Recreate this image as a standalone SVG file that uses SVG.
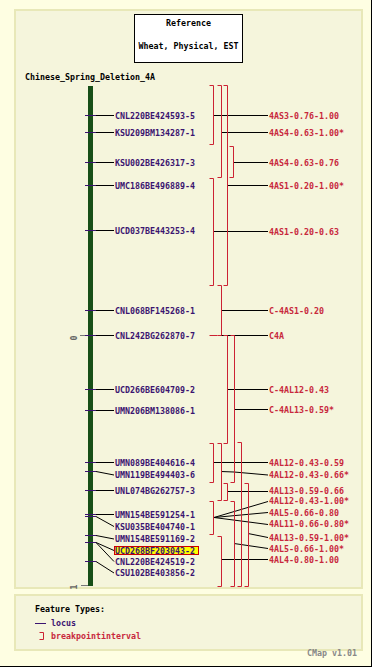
<svg xmlns="http://www.w3.org/2000/svg" width="372" height="667" viewBox="0 0 372 667">
<style>
text{font-family:"DejaVu Sans Mono","Liberation Mono",monospace;font-size:8.3px;font-weight:bold}
.loc{fill:#3b1470}
.bp{fill:#c8283c}
.br{fill:none;stroke:#cc2233;stroke-width:1}
.cn{fill:none;stroke:#000;stroke-width:1}
.tk{stroke:#3b1470;stroke-width:1}
.panel{fill:#f5f5dc;stroke:#e8e8b8;stroke-width:2}
</style>
<rect x="0" y="0" width="372" height="667" fill="#fefee2"/>
<line x1="371.5" y1="0" x2="371.5" y2="667" stroke="#000"/>
<line x1="0" y1="666.5" x2="372" y2="666.5" stroke="#000"/>
<rect class="panel" x="15" y="10" width="347" height="578"/>

<g id="reference-box">
<rect x="134.5" y="14.5" width="108" height="48" fill="#fff" stroke="#000"/>
<text x="188.5" y="25.5" text-anchor="middle" fill="#000">Reference</text>
<text x="188.5" y="49" text-anchor="middle" fill="#000">Wheat, Physical, EST</text>
</g>

<g id="map-title"><text x="25" y="80" fill="#000">Chinese_Spring_Deletion_4A</text></g>

<g id="chromosome">
<rect x="88" y="86" width="5" height="500" fill="#174f17"/>
<line x1="80" y1="335.5" x2="88" y2="335.5" stroke="#777"/>
<text x="74" y="338" fill="#666" font-size="7px" text-anchor="middle" transform="rotate(-90 74 338)" dominant-baseline="central">0</text>
<line x1="81" y1="585.5" x2="88" y2="585.5" stroke="#777"/>
<text x="74" y="587" fill="#666" font-size="7px" text-anchor="middle" transform="rotate(-90 74 587)" dominant-baseline="central">1</text>
</g>

<g id="loci">
<g id="CNL220BE424593-5"><line class="tk" x1="85" y1="115.5" x2="96" y2="115.5"/><line class="cn" x1="96" y1="115.5" x2="114" y2="115.5"/><text class="loc" x="115" y="118.5">CNL220BE424593-5</text></g>
<g id="KSU209BM134287-1"><line class="tk" x1="85" y1="132.5" x2="96" y2="132.5"/><line class="cn" x1="96" y1="132.5" x2="114" y2="132.5"/><text class="loc" x="115" y="135.5">KSU209BM134287-1</text></g>
<g id="KSU002BE426317-3"><line class="tk" x1="85" y1="162.5" x2="96" y2="162.5"/><line class="cn" x1="96" y1="162.5" x2="114" y2="162.5"/><text class="loc" x="115" y="165.5">KSU002BE426317-3</text></g>
<g id="UMC186BE496889-4"><line class="tk" x1="85" y1="185.5" x2="96" y2="185.5"/><line class="cn" x1="96" y1="185.5" x2="114" y2="185.5"/><text class="loc" x="115" y="188.5">UMC186BE496889-4</text></g>
<g id="UCD037BE443253-4"><line class="tk" x1="85" y1="230.5" x2="96" y2="230.5"/><line class="cn" x1="96" y1="230.5" x2="114" y2="230.5"/><text class="loc" x="115" y="233.5">UCD037BE443253-4</text></g>
<g id="CNL068BF145268-1"><line class="tk" x1="85" y1="310.5" x2="96" y2="310.5"/><line class="cn" x1="96" y1="310.5" x2="114" y2="310.5"/><text class="loc" x="115" y="313.5">CNL068BF145268-1</text></g>
<g id="CNL242BG262870-7"><line class="tk" x1="85" y1="335.5" x2="96" y2="335.5"/><line class="cn" x1="96" y1="335.5" x2="114" y2="335.5"/><text class="loc" x="115" y="338.5">CNL242BG262870-7</text></g>
<g id="UCD266BE604709-2"><line class="tk" x1="85" y1="389.5" x2="96" y2="389.5"/><line class="cn" x1="96" y1="389.5" x2="114" y2="389.5"/><text class="loc" x="115" y="392.5">UCD266BE604709-2</text></g>
<g id="UMN206BM138086-1"><line class="tk" x1="85" y1="410.5" x2="96" y2="410.5"/><line class="cn" x1="96" y1="410.5" x2="114" y2="410.5"/><text class="loc" x="115" y="413.5">UMN206BM138086-1</text></g>
<g id="UMN089BE404616-4"><line class="tk" x1="85" y1="462.5" x2="96" y2="462.5"/><line class="cn" x1="96" y1="462.5" x2="114" y2="462.5"/><text class="loc" x="115" y="465.5">UMN089BE404616-4</text></g>
<g id="UMN119BE494403-6"><line class="tk" x1="85" y1="471.5" x2="96" y2="471.5"/><line class="cn" x1="96" y1="471.5" x2="114" y2="475"/><text class="loc" x="115" y="478">UMN119BE494403-6</text></g>
<g id="UNL074BG262757-3"><line class="tk" x1="85" y1="490.5" x2="96" y2="490.5"/><line class="cn" x1="96" y1="490.5" x2="114" y2="490.5"/><text class="loc" x="115" y="493.5">UNL074BG262757-3</text></g>
<g id="UMN154BE591254-1"><line class="tk" x1="85" y1="514.5" x2="96" y2="514.5"/><line class="cn" x1="96" y1="514.5" x2="114" y2="514.5"/><text class="loc" x="115" y="517.5">UMN154BE591254-1</text></g>
<g id="KSU035BE404740-1"><line class="tk" x1="85" y1="516.5" x2="96" y2="516.5"/><line class="cn" x1="96" y1="516.5" x2="114" y2="526.5"/><text class="loc" x="115" y="529.5">KSU035BE404740-1</text></g>
<g id="UMN154BE591169-2"><line class="tk" x1="85" y1="535.5" x2="96" y2="535.5"/><line class="cn" x1="96" y1="535.5" x2="114" y2="539"/><text class="loc" x="115" y="542">UMN154BE591169-2</text></g>
<g id="UCD268BF203043-2"><line class="tk" x1="85" y1="542.5" x2="96" y2="542.5"/><line class="cn" x1="96" y1="542.5" x2="114" y2="550.5"/><rect x="114.5" y="546.5" width="84" height="8" fill="#ffff00" stroke="#cc0000"/><text class="loc" x="115" y="553.5">UCD268BF203043-2</text></g>
<g id="CNL220BE424519-2"><line class="cn" x1="96" y1="542.5" x2="114" y2="561.5"/><text class="loc" x="115" y="564.5">CNL220BE424519-2</text></g>
<g id="CSU102BE403856-2"><line class="tk" x1="85" y1="561.5" x2="96" y2="561.5"/><line class="cn" x1="96" y1="561.5" x2="114" y2="573"/><text class="loc" x="115" y="576">CSU102BE403856-2</text></g>
</g>

<g id="connectors">
<line class="cn" x1="213" y1="115.5" x2="268" y2="115.5"/>
<line class="cn" x1="221" y1="132.5" x2="268" y2="132.5"/>
<line class="cn" x1="233" y1="162.5" x2="268" y2="162.5"/>
<line class="cn" x1="227" y1="185.5" x2="268" y2="185.5"/>
<line class="cn" x1="213" y1="231.5" x2="268" y2="231.5"/>
<line class="cn" x1="221" y1="310.5" x2="268" y2="310.5"/>
<line class="cn" x1="221" y1="335.5" x2="268" y2="335.5"/>
<line class="cn" x1="227" y1="389.5" x2="268" y2="389.5"/>
<line class="cn" x1="234" y1="409.5" x2="268" y2="409.5"/>
<line class="cn" x1="213" y1="462.5" x2="268" y2="462.5"/>
<polyline class="cn" points="221,471.5 234,472 268,475"/>
<line class="cn" x1="227" y1="491.5" x2="268" y2="491.5"/>
<line class="cn" x1="214" y1="517.5" x2="268" y2="501.5"/>
<line class="cn" x1="214" y1="517.5" x2="268" y2="512.5"/>
<line class="cn" x1="214" y1="517.5" x2="268" y2="524.5"/>
<line class="cn" x1="248" y1="533.5" x2="268" y2="537.5"/>
<line class="cn" x1="234" y1="543.5" x2="268" y2="548.5"/>
<line class="cn" x1="221" y1="559.5" x2="268" y2="559.5"/>
</g>

<g id="intervals">
<g id="b-4AS3-0.76-1.00"><path class="br" d="M209.5,85.5 H213.5 V144.5 H209.5"/><text class="bp" x="269" y="118.5">4AS3-0.76-1.00</text></g>
<g id="b-4AS4-0.63-1.00"><path class="br" d="M217.5,85.5 H221.5 V177.5 H217.5"/><text class="bp" x="269" y="135.5">4AS4-0.63-1.00*</text></g>
<g id="b-4AS1-0.20-1.00"><path class="br" d="M223.5,85.5 H227.5 V285.5 H223.5"/><text class="bp" x="269" y="188.5">4AS1-0.20-1.00*</text></g>
<g id="b-4AS4-0.63-0.76"><path class="br" d="M229.5,146.5 H233.5 V177.5 H229.5"/><text class="bp" x="269" y="165.5">4AS4-0.63-0.76</text></g>
<g id="b-4AS1-0.20-0.63"><path class="br" d="M209.5,178.5 H213.5 V285.5 H209.5"/><text class="bp" x="269" y="234.5">4AS1-0.20-0.63</text></g>
<g id="b-C-4AS1-0.20"><path class="br" d="M217.5,285.5 H221.5 V335.5 H217.5"/><text class="bp" x="269" y="313.5">C-4AS1-0.20</text></g>
<g id="b-C4A"><path class="br" d="M209.5,335.5 H217.5"/><text class="bp" x="269" y="338.5">C4A</text></g>
<g id="b-C-4AL12-0.43"><path class="br" d="M223.5,335.5 H227.5 V443.5 H223.5"/><text class="bp" x="269" y="392.5">C-4AL12-0.43</text></g>
<g id="b-C-4AL13-0.59"><path class="br" d="M230.5,335.5 H234.5 V482.5 H230.5"/><text class="bp" x="269" y="412.5">C-4AL13-0.59*</text></g>
<g id="b-4AL12-0.43-0.59"><path class="br" d="M209.5,443.5 H213.5 V482.5 H209.5"/><text class="bp" x="269" y="465.5">4AL12-0.43-0.59</text></g>
<g id="b-4AL12-0.43-0.66"><path class="br" d="M217.5,443.5 H221.5 V500.5 H217.5"/><text class="bp" x="269" y="478">4AL12-0.43-0.66*</text></g>
<g id="b-4AL12-0.43-1.00"><path class="br" d="M237.5,442.5 H241.5 V586.5 H237.5"/><text class="bp" x="269" y="504">4AL12-0.43-1.00*</text></g>
<g id="b-4AL13-0.59-0.66"><path class="br" d="M223.5,483.5 H227.5 V500.5 H223.5"/><text class="bp" x="269" y="494">4AL13-0.59-0.66</text></g>
<g id="b-4AL13-0.59-1.00"><path class="br" d="M244.5,483.5 H248.5 V586.5 H244.5"/><text class="bp" x="269" y="540.5">4AL13-0.59-1.00*</text></g>
<g id="b-4AL5-0.66-0.80"><path class="br" d="M209.5,501.5 H213.5 V534.5 H209.5"/><text class="bp" x="269" y="515.5">4AL5-0.66-0.80</text></g>
<g id="b-4AL11-0.66-0.80"><text class="bp" x="269" y="527">4AL11-0.66-0.80*</text></g>
<g id="b-4AL5-0.66-1.00"><path class="br" d="M230.5,501.5 H234.5 V586.5 H230.5"/><text class="bp" x="269" y="551.5">4AL5-0.66-1.00*</text></g>
<g id="b-4AL4-0.80-1.00"><path class="br" d="M217.5,536.5 H221.5 V586.5 H217.5"/><text class="bp" x="269" y="562.5">4AL4-0.80-1.00</text></g>
</g>

<g id="legend">
<rect class="panel" x="15" y="595" width="347" height="55"/>
<text x="35" y="612" fill="#000">Feature Types:</text>
<line x1="35" y1="623.5" x2="46" y2="623.5" stroke="#3b1470"/>
<text class="loc" x="51" y="626">locus</text>
<path class="br" d="M39.5,632.5 H43.5 V639.5 H39.5"/>
<text class="bp" x="51" y="638.5">breakpointinterval</text>
<text x="307" y="655.5" fill="#888">CMap v1.01</text>
</g>
</svg>
